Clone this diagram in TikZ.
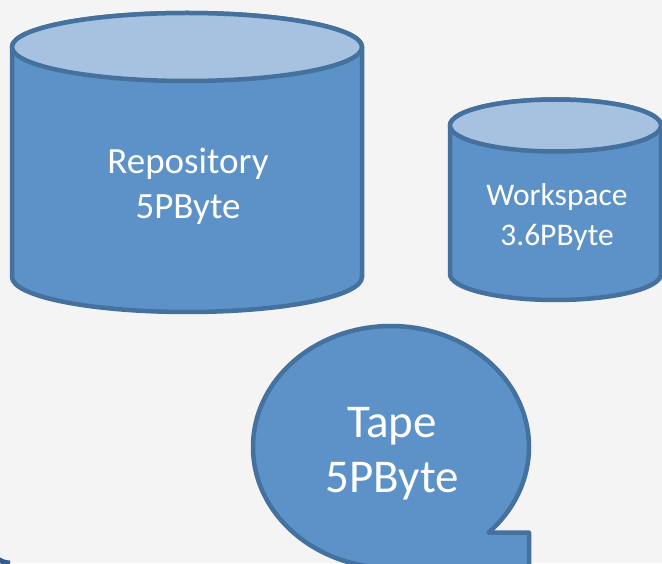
\documentclass[tikz,border=0pt]{standalone}
\usepackage{fontspec}
\setmainfont{Carlito}
\usepackage{tikz}
\usetikzlibrary{calc}
\definecolor{backgray}{RGB}{244,244,244}
\definecolor{drumblue}{RGB}{92,146,200}
\definecolor{lidblue}{RGB}{167,193,224}
\definecolor{edgeblue}{RGB}{69,113,158}
\definecolor{frameblue}{RGB}{52,92,140}

\begin{document}
\begin{tikzpicture}[x=1pt,y=1pt]
	\path [use as bounding box, fill=backgray] (0,0) rectangle (662,563);
	\tikzstyle{body} = [fill=drumblue, draw=edgeblue, line width=4.5pt, line join=round]
	\tikzstyle{lid} = [body, fill=lidblue]
	\tikzstyle{label} = [text=white, align=center, inner sep=0pt]
	% corner of the outer frame
	\draw[frameblue, line width=5pt] (-10,20) arc[start angle=180, end angle=270, radius=20];
	% repository
	\coordinate (RT) at (187,516);
	\coordinate (RB) at (187,286);
	\draw[body] ($(RT)+(-175,0)$) -- ($(RB)+(-175,0)$) arc[start angle=180, end angle=360, x radius=175, y radius=35] -- ($(RT)+(175,0)$) arc[start angle=0, end angle=180, x radius=175, y radius=34] -- cycle;
	\draw[lid] (RT) ellipse [x radius=175, y radius=34];
	\node[label, font=\fontsize{37}{45}\selectfont] (repo) at (188,377) {Repository\\5PByte};
	% workspace
	\coordinate (WT) at (555.5,437.5);
	\coordinate (WB) at (555.5,289);
	\draw[body] ($(WT)+(-105.5,0)$) -- ($(WB)+(-105.5,0)$) arc[start angle=180, end angle=360, x radius=105.5, y radius=26] -- ($(WT)+(105.5,0)$) arc[start angle=0, end angle=180, x radius=105.5, y radius=26] -- cycle;
	\draw[lid] (WT) ellipse [x radius=105.5, y radius=26];
	\node[label, font=\fontsize{31.5}{40}\selectfont] (work) at (557,345.5) {Workspace\\3.6PByte};
	% tape
	\coordinate (TC) at (391,116);
	\draw[body] ($(TC)+(0,-121)$) arc[start angle=-90, end angle=-405, x radius=138, y radius=121] -- ($(TC)+(138,-85.6)$) -- ($(TC)+(138,-121)$) -- cycle;
	\node[label, font=\fontsize{47}{55}\selectfont] (tape) at (392,109) {Tape\\5PByte};
\end{tikzpicture}
\end{document}
